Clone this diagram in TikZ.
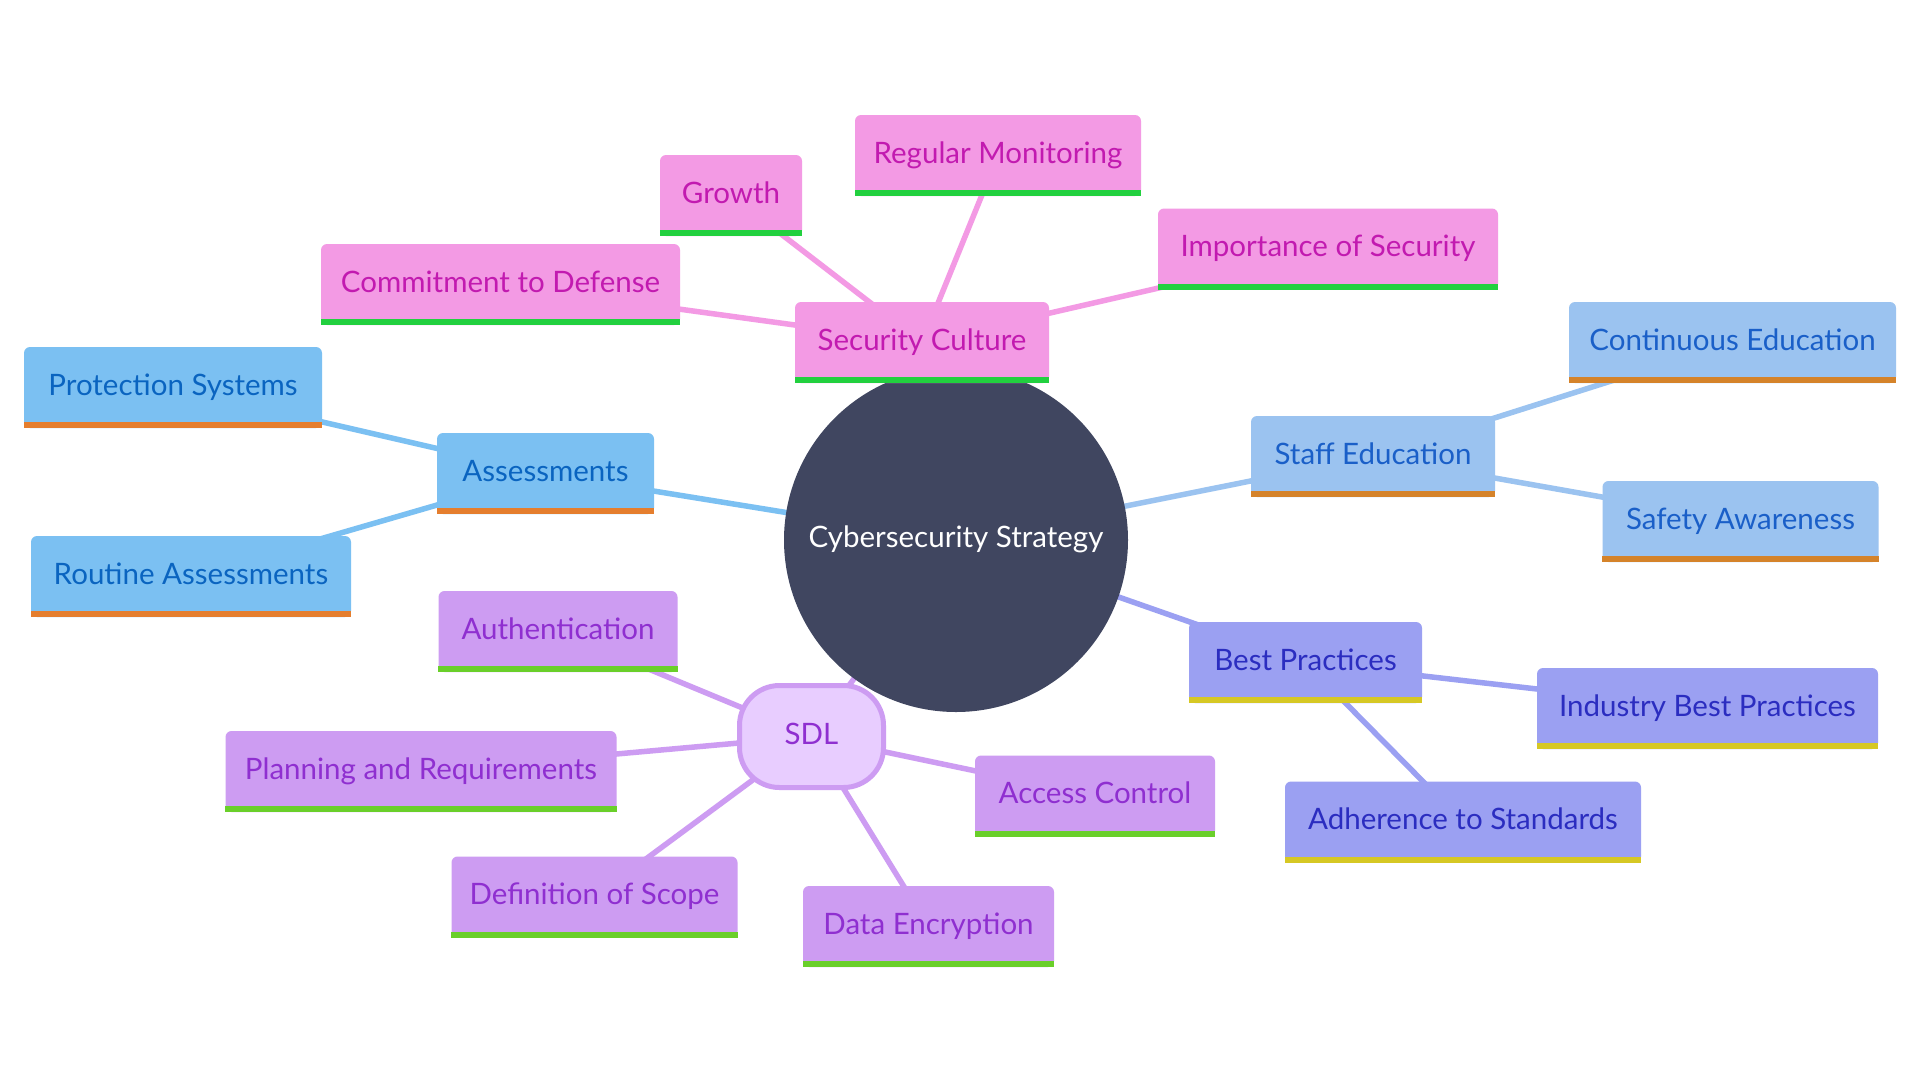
\documentclass[tikz,border=0pt]{standalone}
\usepackage{fontspec}
\setmainfont{Lato}
\usetikzlibrary{backgrounds}
\definecolor{core}{HTML}{404660}
\definecolor{pinkf}{HTML}{F39AE4}
\definecolor{pinkt}{HTML}{C21AB0}
\definecolor{pinkb}{HTML}{22D03F}
\definecolor{bluef}{HTML}{7BC0F2}
\definecolor{bluet}{HTML}{0A64C0}
\definecolor{blueb}{HTML}{E57E2E}
\definecolor{lbluef}{HTML}{9BC3F0}
\definecolor{lbluet}{HTML}{1A5FC8}
\definecolor{lblueb}{HTML}{D5832A}
\definecolor{perif}{HTML}{9BA0F2}
\definecolor{perit}{HTML}{2B2DC0}
\definecolor{perib}{HTML}{D6C824}
\definecolor{lilacf}{HTML}{CD9CF2}
\definecolor{lilact}{HTML}{8F2FD0}
\definecolor{lilacb}{HTML}{6ACF2A}
\definecolor{sdlf}{HTML}{E8CDFF}
\begin{document}
\begin{tikzpicture}[x=1pt,y=-1pt,
  txt/.style={font={\fontsize{29.5pt}{34pt}\selectfont}, text height=21.5pt, text depth=6.5pt},
  leaf/.style={txt, rectangle, rounded corners=6pt, inner sep=0pt, minimum height=81pt},
  pinkbox/.style={leaf, fill=pinkf, text=pinkt},
  bluebox/.style={leaf, fill=bluef, text=bluet},
  lbluebox/.style={leaf, fill=lbluef, text=lbluet},
  peribox/.style={leaf, fill=perif, text=perit},
  lilacbox/.style={leaf, fill=lilacf, text=lilact},
  edge/.style={line width=5.5pt}
]
\useasboundingbox (0,0) rectangle (1920,1080);
% centre
\node[txt, circle, fill=core, text=white, minimum size=344pt, inner sep=0pt] (c) at (956,540) {Cybersecurity Strategy};
% security culture
\node[pinkbox, minimum width=254pt] (sc) at (922,342.5) {Security Culture};
\node[pinkbox, minimum width=286pt] (rm) at (998,155.5) {Regular Monitoring};
\node[pinkbox, minimum width=142pt] (gr) at (731,195.5) {Growth};
\node[pinkbox, minimum width=359pt] (cd) at (500.5,284.5) {Commitment to Defense};
\node[pinkbox, minimum width=340pt] (is) at (1328,249) {Importance of Security};
% assessments
\node[bluebox, minimum width=217pt] (as) at (545.5,473.5) {Assessments};
\node[bluebox, minimum width=298pt] (ps) at (173,387.5) {Protection Systems};
\node[bluebox, minimum width=320pt] (ra) at (191,576.5) {Routine Assessments};
% staff education
\node[lbluebox, minimum width=244pt] (se) at (1373,456.5) {Staff Education};
\node[lbluebox, minimum width=327pt] (ce) at (1732.5,342.5) {Continuous Education};
\node[lbluebox, minimum width=276pt] (sa) at (1740.5,521.5) {Safety Awareness};
% best practices
\node[peribox, minimum width=233pt] (bp) at (1305.5,662.5) {Best Practices};
\node[peribox, minimum width=341pt] (ib) at (1707.5,708.5) {Industry Best Practices};
\node[peribox, minimum width=356pt] (ad) at (1463,822) {Adherence to Standards};
% SDL
\node[txt, rectangle, rounded corners=40pt, draw=lilacf, line width=5pt, fill=sdlf, text=lilact, minimum width=144pt, minimum height=102pt, inner sep=0pt] (sdl) at (811.5,736.5) {SDL};
\node[lilacbox, minimum width=239pt] (au) at (558,631.5) {Authentication};
\node[lilacbox, minimum width=391pt] (pr) at (421,771.5) {Planning and Requirements};
\node[lilacbox, minimum width=286pt] (ds) at (594.5,897) {Definition of Scope};
\node[lilacbox, minimum width=251pt] (de) at (928.5,926.5) {Data Encryption};
\node[lilacbox, minimum width=240pt] (ac) at (1095,796) {Access Control};
% bottom bars
\foreach \n/\col in {sc/pinkb, rm/pinkb, gr/pinkb, cd/pinkb, is/pinkb,
  as/blueb, ps/blueb, ra/blueb, se/lblueb, ce/lblueb, sa/lblueb,
  bp/perib, ib/perib, ad/perib, au/lilacb, pr/lilacb, ds/lilacb, de/lilacb, ac/lilacb}
  \fill[\col] (\n.south west) rectangle ([yshift=6pt]\n.south east);
% connectors
\begin{pgfonlayer}{background}
\fill[white] (0,0) rectangle (1920,1080);
\draw[edge, pinkf] (c.center) -- (sc.center);
\draw[edge, pinkf] (sc.center) -- (rm.center);
\draw[edge, pinkf] (sc.center) -- (gr.center);
\draw[edge, pinkf] (sc.center) -- (cd.center);
\draw[edge, pinkf] (sc.center) -- (is.center);
\draw[edge, bluef] (c.center) -- (as.center);
\draw[edge, bluef] (as.center) -- (ps.center);
\draw[edge, bluef] (as.center) -- (ra.center);
\draw[edge, lbluef] (c.center) -- (se.center);
\draw[edge, lbluef] (se.center) -- (ce.center);
\draw[edge, lbluef] (se.center) -- (sa.center);
\draw[edge, perif] (c.center) -- (bp.center);
\draw[edge, perif] (bp.center) -- (ib.center);
\draw[edge, perif] (bp.center) -- (ad.center);
\draw[edge, lilacf] (c.center) -- (sdl.center);
\draw[edge, lilacf] (sdl.center) -- (au.center);
\draw[edge, lilacf] (sdl.center) -- (pr.center);
\draw[edge, lilacf] (sdl.center) -- (ds.center);
\draw[edge, lilacf] (sdl.center) -- (de.center);
\draw[edge, lilacf] (sdl.center) -- (ac.center);
\end{pgfonlayer}
\end{tikzpicture}
\end{document}
